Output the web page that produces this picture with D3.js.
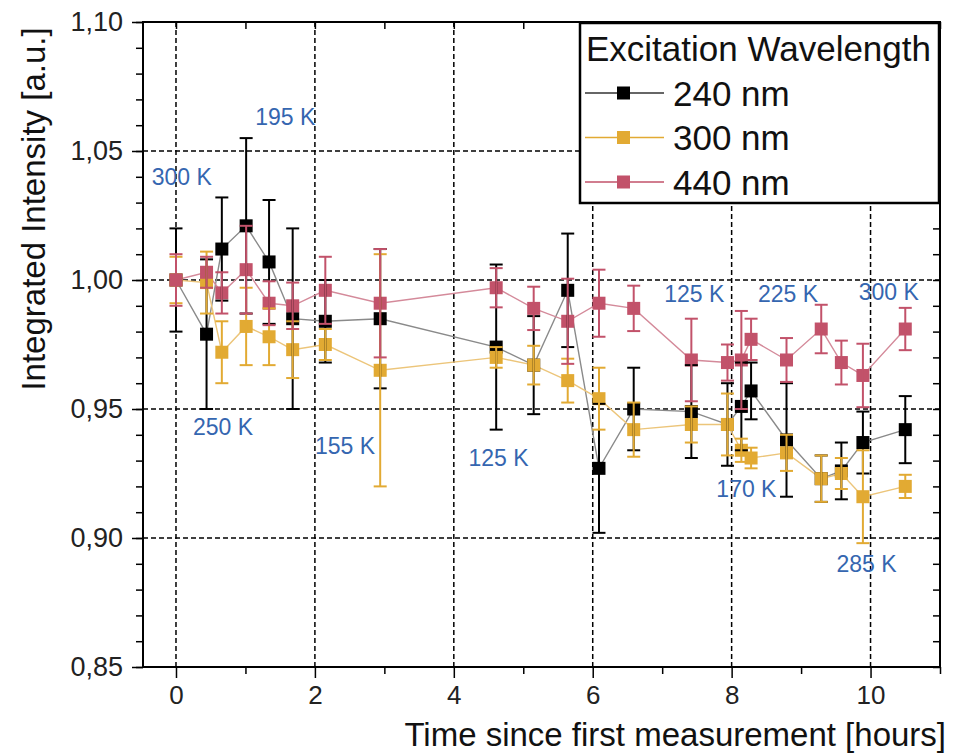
<!DOCTYPE html>
<html><head><meta charset="utf-8">
<script src="https://cdn.jsdelivr.net/npm/d3@7"></script>
<style>
html,body{margin:0;padding:0;background:#fff;}
svg{display:block;font-family:"Liberation Sans",Arial,sans-serif;}
</style></head>
<body><svg id="c" width="954" height="753"></svg>
<script>
// ---- data ----
const times = [0, 0.44, 0.66, 1.01, 1.34, 1.68, 2.15, 2.94, 4.61, 5.15, 5.64, 6.09, 6.59, 7.42, 7.94, 8.14, 8.28, 8.79, 9.29, 9.58, 9.89, 10.5];
const values240 = [1.000, 0.979, 1.012, 1.021, 1.007, 0.985, 0.984, 0.985, 0.974, 0.967, 0.996, 0.927, 0.950, 0.949, 0.944, 0.951, 0.957, 0.938, 0.923, 0.926, 0.937, 0.942];
const errors240 = [0.020, 0.029, 0.020, 0.034, 0.024, 0.035, 0.016, 0.027, 0.032, 0.019, 0.022, 0.025, 0.016, 0.018, 0.016, 0.017, 0.011, 0.022, 0.009, 0.011, 0.012, 0.013];
const values300 = [1.000, 0.999, 0.972, 0.982, 0.978, 0.973, 0.975, 0.965, 0.970, 0.967, 0.961, 0.954, 0.942, 0.944, 0.944, 0.934, 0.931, 0.933, 0.923, 0.925, 0.916, 0.920];
const errors300 = [0.009, 0.012, 0.012, 0.015, 0.011, 0.011, 0.006, 0.045, 0.004, 0.0075, 0.0085, 0.012, 0.0105, 0.007, 0.012, 0.0045, 0.004, 0.007, 0.009, 0.006, 0.018, 0.0045];
const values440 = [1.000, 1.003, 0.995, 1.004, 0.991, 0.990, 0.996, 0.991, 0.997, 0.989, 0.984, 0.991, 0.989, 0.969, 0.968, 0.969, 0.977, 0.969, 0.981, 0.968, 0.963, 0.981];
const errors440 = [0.010, 0.006, 0.008, 0.017, 0.0085, 0.009, 0.013, 0.021, 0.0076, 0.0084, 0.0165, 0.013, 0.0088, 0.016, 0.007, 0.019, 0.008, 0.0085, 0.0094, 0.0085, 0.0123, 0.0082];
const seriesNames = ["240 nm", "300 nm", "440 nm"];
const xTicks = [0, 2, 4, 6, 8, 10];
const xMinorTicks = [1, 3, 5, 7, 9, 11];
const yTicks = [0.85, 0.90, 0.95, 1.00, 1.05, 1.10];
const tempLabels = ["300 K", "195 K", "250 K", "155 K", "125 K", "125 K", "225 K", "300 K", "170 K", "285 K"];
const tempTimes = [-0.35, 1.14, 0.245, 2.0, 4.21, 7.03, 8.38, 9.83, 7.78, 9.51];
const tempValues = [1.0368, 1.0601, 0.9399, 0.9326, 0.9279, 0.9915, 0.9915, 0.9922, 0.9159, 0.8868];
const legendTitle = "Excitation Wavelength";
const xTitle = "Time since first measurement [hours]";
const yTitle = "Integrated Intensity [a.u.]";

// ---- styles ----
const markerColors = ["#000000", "#e2aa33", "#c2526a"];
const lineColors = ["#8a8a8a", "#ecc57a", "#d48a9a"];
const annColor = "#3566b0";

const svg = d3.select("#c");
const L = 143, R = 940, T = 22, B = 667;
const x = d3.scaleLinear().domain([-0.475, 11.0]).range([L, R]);
const y = d3.scaleLinear().domain([0.85, 1.10]).range([B, T]);

// grid
const grid = svg.append("g");
grid.selectAll("line.gx").data(xTicks).join("line")
  .attr("x1", d => x(d)).attr("x2", d => x(d)).attr("y1", T).attr("y2", B)
  .attr("stroke", "#000").attr("stroke-width", 1.5).attr("stroke-dasharray", "5,3");
grid.selectAll("line.gy").data(yTicks.filter(v => v > 0.86 && v < 1.09)).join("line")
  .attr("x1", L).attr("x2", R).attr("y1", d => y(d)).attr("y2", d => y(d))
  .attr("stroke", "#000").attr("stroke-width", 1.5).attr("stroke-dasharray", "5,3");

// axes
const fmt = d => d3.format(".2f")(d).replace(".", ",");
const yMinor = d3.range(85, 111).map(v => v / 100);
const axL = svg.append("g").attr("transform", `translate(${L},0)`)
  .call(d3.axisLeft(y).tickValues(yMinor).tickFormat("").tickSize(7).tickSizeOuter(0));
const axL2 = svg.append("g").attr("transform", `translate(${L},0)`)
  .call(d3.axisLeft(y).tickValues(yTicks).tickFormat(fmt).tickSize(11).tickPadding(9).tickSizeOuter(0));
axL2.selectAll("text").attr("font-size", 27).attr("fill", "#222")
  .attr("font-family", "'Liberation Sans',Arial,sans-serif");
const axR = svg.append("g").attr("transform", `translate(${R},0)`)
  .call(d3.axisLeft(y).tickValues(yMinor).tickFormat("").tickSize(7).tickSizeOuter(0));
const axB = svg.append("g").attr("transform", `translate(0,${B})`)
  .call(d3.axisBottom(x).tickValues(xMinorTicks).tickFormat("").tickSize(7).tickSizeOuter(0));
const axB2 = svg.append("g").attr("transform", `translate(0,${B})`)
  .call(d3.axisBottom(x).tickValues(xTicks).tickFormat(d3.format("d")).tickSize(11).tickPadding(8).tickSizeOuter(0));
axB2.selectAll("text").attr("font-size", 26).attr("fill", "#222")
  .attr("font-family", "'Liberation Sans',Arial,sans-serif");
const axT = svg.append("g").attr("transform", `translate(0,${T})`)
  .call(d3.axisBottom(x).tickValues(xTicks.concat(xMinorTicks)).tickFormat("").tickSize(7).tickSizeOuter(0));
[axL, axL2, axR, axB, axB2, axT].forEach(g => {
  g.select(".domain").remove();
  g.selectAll("line").attr("stroke", "#000").attr("stroke-width", 1.5);
});
svg.append("rect").attr("x", L).attr("y", T).attr("width", R - L).attr("height", B - T)
  .attr("fill", "none").attr("stroke", "#000").attr("stroke-width", 2);

// series
const series = [
  {vals: values240, errs: errors240},
  {vals: values300, errs: errors300},
  {vals: values440, errs: errors440}
];
const lineGen = d3.line().x(d => x(d.t)).y(d => y(d.v));
series.forEach((s, i) => {
  const pts = times.map((t, k) => ({t, v: s.vals[k], e: s.errs[k]}));
  svg.append("path").datum(pts).attr("d", lineGen)
    .attr("fill", "none").attr("stroke", lineColors[i]).attr("stroke-width", 1.4);
});
series.forEach((s, i) => {
  const pts = times.map((t, k) => ({t, v: s.vals[k], e: s.errs[k]}));
  svg.append("g").selectAll("rect").data(pts).join("rect")
    .attr("x", d => x(d.t) - 6.5).attr("y", d => y(d.v) - 6.5)
    .attr("width", 13).attr("height", 13).attr("fill", markerColors[i]);
});
series.forEach((s, i) => {
  const pts = times.map((t, k) => ({t, v: s.vals[k], e: s.errs[k]}));
  const g = svg.append("g").attr("stroke", markerColors[i]).attr("stroke-width", 2);
  g.selectAll("line.v").data(pts).join("line")
    .attr("x1", d => x(d.t)).attr("x2", d => x(d.t))
    .attr("y1", d => y(d.v + d.e)).attr("y2", d => y(d.v - d.e));
  g.selectAll("line.t").data(pts).join("line")
    .attr("x1", d => x(d.t) - 6.5).attr("x2", d => x(d.t) + 6.5)
    .attr("y1", d => y(d.v + d.e)).attr("y2", d => y(d.v + d.e));
  g.selectAll("line.b").data(pts).join("line")
    .attr("x1", d => x(d.t) - 6.5).attr("x2", d => x(d.t) + 6.5)
    .attr("y1", d => y(d.v - d.e)).attr("y2", d => y(d.v - d.e));
});

// temperature annotations
svg.append("g").selectAll("text").data(tempLabels).join("text")
  .attr("x", (d, i) => x(tempTimes[i])).attr("y", (d, i) => y(tempValues[i]))
  .attr("font-size", 23).attr("fill", annColor).text(d => d);

// legend
const lg = svg.append("g");
lg.append("rect").attr("x", 580).attr("y", T + 1).attr("width", R - 580 - 1).attr("height", 180)
  .attr("fill", "#fff").attr("stroke", "#000").attr("stroke-width", 2.5);
lg.append("text").attr("x", 586).attr("y", 61).attr("font-size", 35).attr("fill", "#111").text(legendTitle);
seriesNames.forEach((n, i) => {
  const cy = 93 + i * 44.5;
  lg.append("line").attr("x1", 585).attr("x2", 664).attr("y1", cy).attr("y2", cy)
    .attr("stroke", i === 0 ? "#333" : markerColors[i]).attr("stroke-width", 1.5);
  lg.append("rect").attr("x", 617).attr("y", cy - 6.5).attr("width", 13).attr("height", 13).attr("fill", markerColors[i]);
  lg.append("text").attr("x", 673).attr("y", cy + 12.5).attr("font-size", 35).attr("fill", "#111").text(n);
});

// axis titles
svg.append("text").attr("x", 946).attr("y", 746).attr("text-anchor", "end")
  .attr("font-size", 33).attr("fill", "#111").text(xTitle);
svg.append("text").attr("transform", "translate(45,209) rotate(-90)").attr("text-anchor", "middle")
  .attr("font-size", 33).attr("fill", "#111").text(yTitle);
</script>
</body></html>
